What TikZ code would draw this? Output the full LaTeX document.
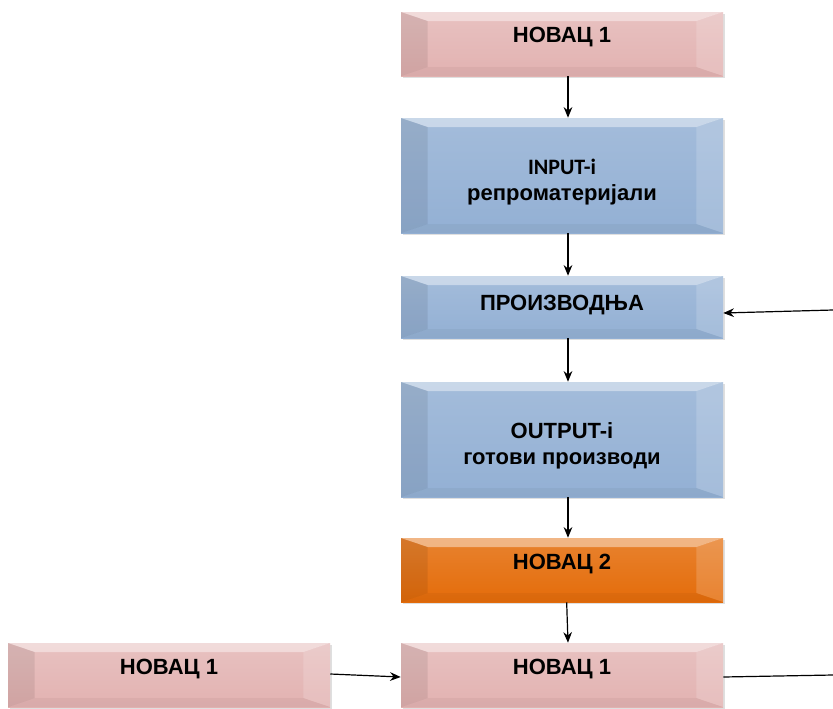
\documentclass[tikz,border=0pt]{standalone}
\usepackage{fontspec}
\setmainfont{Liberation Sans}
\newfontfamily\calib{Carlito}
\usepackage{tikz}
\usetikzlibrary{calc,shadows,arrows.meta}
\definecolor{pinkc}{RGB}{226,178,177}
\definecolor{bluec}{RGB}{147,176,212}
\definecolor{orangec}{RGB}{228,108,10}
\newcommand{\bevelparts}{%
\coordinate (bnw) at (path picture bounding box.north west);
\coordinate (bne) at (path picture bounding box.north east);
\coordinate (bsw) at (path picture bounding box.south west);
\coordinate (bse) at (path picture bounding box.south east);
\fill[white,opacity=.42] (bnw) -- (bne) -- ([shift={(-20pt,-6.75pt)}]bne) -- ([shift={(20pt,-6.75pt)}]bnw) -- cycle;
\fill[white,opacity=.16] (bne) -- (bse) -- ([shift={(-20pt,6.75pt)}]bse) -- ([shift={(-20pt,-6.75pt)}]bne) -- cycle;
\fill[black,opacity=.08] (bnw) -- (bsw) -- ([shift={(20pt,6.75pt)}]bsw) -- ([shift={(20pt,-6.75pt)}]bnw) -- cycle;
\fill[black,opacity=.04] (bsw) -- (bse) -- ([shift={(-20pt,6.75pt)}]bse) -- ([shift={(20pt,6.75pt)}]bsw) -- cycle;
}
\tikzstyle{box} = [rectangle, minimum width=241.5pt, minimum height=48pt, inner sep=0pt, align=center, text=black, font=\bfseries\fontsize{16.5}{20}\selectfont, drop shadow={shadow xshift=1.2pt, shadow yshift=-1.5pt, opacity=.25}, path picture={\bevelparts}]
\tikzstyle{money} = [box, top color=pinkc!80!white, bottom color=pinkc]
\tikzstyle{material} = [box, top color=bluec!85!white, bottom color=bluec]
\tikzstyle{profit} = [box, top color=orangec!85!white, bottom color=orangec]
\tikzstyle{lift} = [text height=11.8pt, text depth=#1]
\tikzstyle{twoline} = [minimum height=86.25pt, text height=41.8pt, text depth=4pt]
\tikzstyle{arrow} = [line width=.9pt,-{Stealth[length=8pt,width=6.5pt]}]
\tikzstyle{line} = [line width=.9pt]

\begin{document}
\begin{tikzpicture}[x=0.75pt,y=-0.75pt]
\useasboundingbox (0,0) rectangle (833,708);
\node (cash) [money, lift=14pt] at (562,44) {НОВАЦ 1};
\node (input) [material, twoline] at (562,175.5) {{\calib INPUT-i}\\репроматеријали};
\node (prod) [material, minimum height=46.5pt, lift=7pt] at (562,307) {ПРОИЗВОДЊА};
\node (output) [material, twoline] at (562,439.5) {OUTPUT-i\\готови производи};
\node (cashb) [profit, lift=13pt] at (562,570) {НОВАЦ 2};
\node (cashc) [money, lift=12pt] at (562,675) {НОВАЦ 1};
\node (cashl) [money, lift=12pt] at (169,675) {НОВАЦ 1};
\coordinate (feed) at (833,310);
\coordinate (out) at (833,675);

\draw [arrow] ([xshift=4.5pt]cash.south) -- ([xshift=4.5pt]input.north);
\draw [arrow] ([xshift=4.5pt]input.south) -- ([xshift=4.5pt]prod.north);
\draw [arrow] ([xshift=4.5pt]prod.south) -- ([xshift=4.5pt]output.north);
\draw [arrow] ([xshift=4.5pt]output.south) -- ([xshift=4.5pt]cashb.north);
\draw [arrow] ([xshift=3.5pt]cashb.south) -- ([xshift=4.5pt]cashc.north);
\draw [arrow] (feed) -- ([yshift=-4.5pt]prod.east);
\draw [arrow] ([yshift=.75pt]cashl.east) -- ([yshift=-1.5pt]cashc.west);
\draw [line] ([yshift=-1.5pt]cashc.east) -- (out);
\end{tikzpicture}
\end{document}
